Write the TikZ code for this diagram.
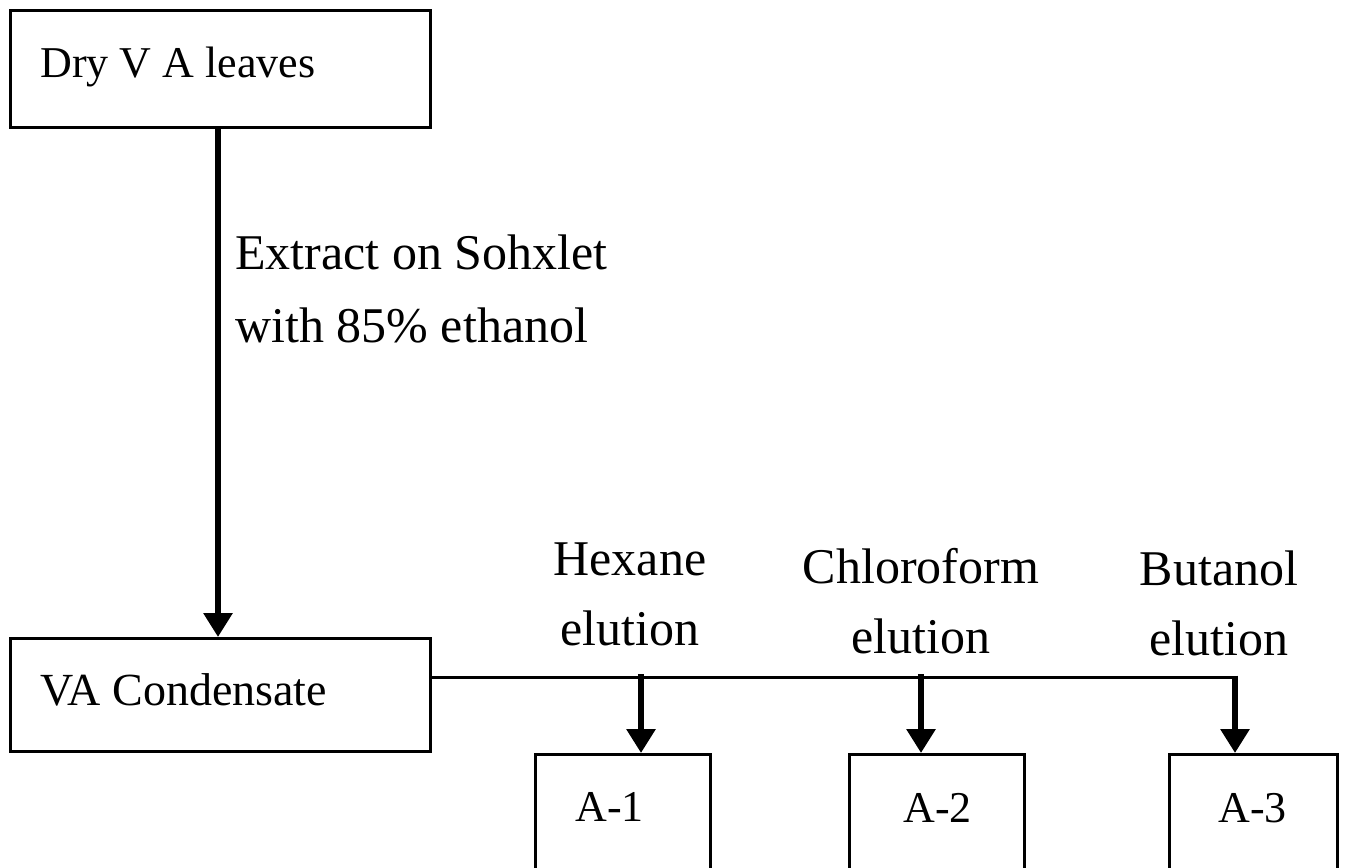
\documentclass[tikz,border=0pt]{standalone}
\usepackage{fontspec}
\setmainfont{Liberation Serif}
\usetikzlibrary{arrows.meta}
\begin{document}
\begin{tikzpicture}[x=0.5pt,y=-0.5pt,
  box/.style={draw, line width=1.5pt, inner sep=0pt},
  flow/.style={line width=3.25pt, -{Triangle[length=12pt,width=14pt]}},
  bus/.style={line width=1.5pt},
  lbl/.style={font=\fontsize{25pt}{35pt}\selectfont, align=center, inner sep=0pt, anchor=base},
  btxt/.style={font=\fontsize{22pt}{26pt}\selectfont, inner sep=0pt, anchor=base west}]
\clip (0,0) rectangle (1347,867);

% process boxes
\node[box, minimum width=210pt, minimum height=58.5pt] (dry) at (220.5,69) {};
\node[btxt] (drytxt) at (40,77) {Dry V A leaves};
\node[box, minimum width=210pt, minimum height=56.5pt] (cond) at (220.5,695) {};
\node[btxt, font=\fontsize{23pt}{27pt}\selectfont] (condtxt) at (40,705) {VA Condensate};

% fraction boxes (run past the lower edge)
\node[box, minimum width=87.5pt, minimum height=97.75pt] (a1) at (623,852.25) {};
\node[box, minimum width=87.5pt, minimum height=97.75pt] (a2) at (937,852.25) {};
\node[box, minimum width=84pt, minimum height=97.75pt] (a3) at (1253.5,852.25) {};
\node[btxt] (a1txt) at (575,821) {A-1};
\node[btxt] (a2txt) at (903,822) {A-2};
\node[btxt] (a3txt) at (1218,822) {A-3};

% step labels (anchored at the baseline of their last line)
\node[lbl, align=left, anchor=base west, font=\fontsize{25pt}{36.5pt}\selectfont] (extract) at (235,342) {Extract on Sohxlet\\with 85\% ethanol};
\node[lbl] (hex) at (630,645) {Hexane\\elution};
\node[lbl] (chl) at (921,653) {Chloroform\\elution};
\node[lbl] (but) at (1219,655) {Butanol\\elution};

% connectors
\coordinate (sx) at (218,0);
\draw[flow] (dry.south -| sx) -- (cond.north -| sx);
\coordinate (j1) at (641,677);
\coordinate (j2) at (921,677);
\coordinate (j3) at (1235,677);
\draw[bus] (cond.east |- j1) -- ([xshift=1.6pt]j3);
\draw[flow] ([yshift=1.5pt]j1) -- (a1.north -| j1);
\draw[flow] ([yshift=1.5pt]j2) -- (a2.north -| j2);
\draw[flow] ([yshift=0.75pt]j3) -- (a3.north -| j3);
\end{tikzpicture}
\end{document}
